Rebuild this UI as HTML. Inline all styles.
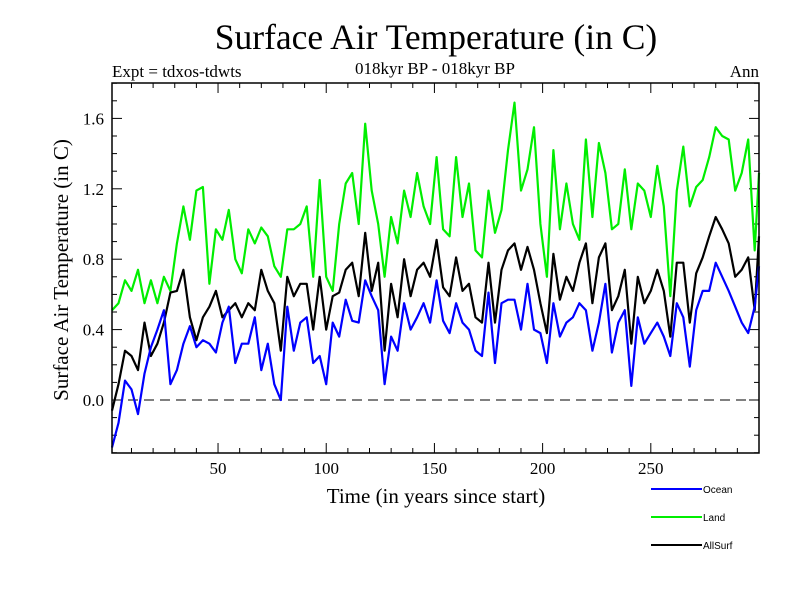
<!DOCTYPE html>
<html><head><meta charset="utf-8"><style>
html,body{margin:0;padding:0;background:#fff;}
svg{display:block;}
text{font-family:"Liberation Serif",serif;fill:#000;}
text.sans{font-family:"Liberation Sans",sans-serif;}
</style></head><body>
<svg id="chart" width="800" height="600" viewBox="0 0 800 600">
<text x="436" y="49" text-anchor="middle" font-size="35.5">Surface Air Temperature (in C)</text>
<text x="112" y="77" font-size="17">Expt = tdxos-tdwts</text>
<text x="435" y="74" text-anchor="middle" font-size="17">018kyr BP - 018kyr BP</text>
<text x="759" y="77" text-anchor="end" font-size="17">Ann</text>
<text transform="translate(68,270) rotate(-90)" text-anchor="middle" font-size="21">Surface Air Temperature (in C)</text>
<text x="436" y="503" text-anchor="middle" font-size="21">Time (in years since start)</text>
<g id="axes"></g>
<g id="series"></g>
<g id="legend"></g>
<rect x="112" y="83" width="647" height="370" fill="none" stroke="#000" stroke-width="1.5"/>
</svg>
<script>
const yTicks = [0.0, 0.4, 0.8, 1.2, 1.6];
const yTickLabels = ["0.0", "0.4", "0.8", "1.2", "1.6"];
const xTicks = [50, 100, 150, 200, 250];
const xTickLabels = ["50", "100", "150", "200", "250"];
const seriesNames = ["Ocean", "Land", "AllSurf"];
const ocean = [-0.27,-0.13,0.11,0.06,-0.08,0.15,0.3,0.4,0.51,0.09,0.17,0.32,0.42,0.3,0.34,0.32,0.27,0.44,0.53,0.21,0.32,0.32,0.47,0.17,0.32,0.09,
0.0,0.53,0.28,0.44,0.47,0.21,0.25,0.09,0.44,0.36,0.57,0.45,0.44,0.68,0.59,0.51,0.09,0.36,0.28,0.55,0.4,0.47,0.55,0.44,
0.68,0.45,0.38,0.55,0.44,0.4,0.28,0.25,0.61,0.21,0.55,0.57,0.57,0.4,0.66,0.4,0.38,0.21,0.55,0.36,0.44,0.47,0.55,0.51,0.28,
0.44,0.66,0.27,0.44,0.51,0.08,0.47,0.32,0.38,0.44,0.36,0.25,0.55,0.47,0.19,0.51,0.62,0.62,0.78,0.7,0.62,0.53,0.44,0.38,0.53,0.76];
const land = [0.51,0.55,0.68,0.62,0.74,0.55,0.68,0.55,0.7,0.62,0.89,1.1,0.91,1.19,1.21,0.66,0.97,0.91,1.08,0.8,0.72,0.97,0.89,0.98,0.93,0.76,
0.7,0.97,0.97,1.0,1.1,0.7,1.25,0.7,0.62,1.0,1.23,1.29,1.0,1.57,1.19,1.0,0.7,1.04,0.89,1.19,1.04,1.29,1.1,1.0,
1.38,0.97,0.93,1.38,1.04,1.23,0.85,0.81,1.19,0.95,1.08,1.42,1.69,1.19,1.31,1.55,1.0,0.7,1.42,0.97,1.23,1.0,0.91,1.48,1.04,
1.46,1.29,0.97,1.0,1.31,0.97,1.23,1.19,1.04,1.33,1.1,0.59,1.19,1.44,1.1,1.21,1.25,1.38,1.55,1.5,1.48,1.19,1.29,1.48,0.85,1.29];
const allSurf = [-0.06,0.09,0.28,0.25,0.17,0.44,0.25,0.32,0.44,0.61,0.62,0.74,0.47,0.34,0.47,0.53,0.62,0.47,0.51,0.55,0.47,0.55,0.51,0.74,0.62,0.55,
0.28,0.7,0.59,0.66,0.66,0.4,0.7,0.4,0.59,0.61,0.74,0.78,0.59,0.95,0.62,0.78,0.28,0.66,0.47,0.8,0.59,0.74,0.78,0.7,
0.91,0.64,0.59,0.81,0.62,0.66,0.47,0.44,0.78,0.44,0.74,0.85,0.89,0.74,0.87,0.74,0.55,0.38,0.83,0.57,0.7,0.62,0.78,0.89,0.55,
0.81,0.89,0.51,0.59,0.74,0.32,0.7,0.55,0.62,0.74,0.62,0.36,0.78,0.78,0.44,0.72,0.81,0.93,1.04,0.97,0.89,0.7,0.74,0.81,0.51,0.93];
const years = [];
for (let y = 1; y <= 298; y += 3) years.push(y);
years.push(300);

const NS = "http://www.w3.org/2000/svg";
const L = 112, R = 759, T = 83, B = 453;
const xMin = 1, xMax = 300;
function xs(v){ return L + (v - xMin) * (R - L) / (xMax - xMin); }
function ys(v){ return 400 - v * 176; }
function mk(tag, attrs, parent){ const e = document.createElementNS(NS, tag); for (const k in attrs) e.setAttribute(k, attrs[k]); parent.appendChild(e); return e; }

const axes = document.getElementById('axes');
for (let i = -3; i <= 18; i++) {
  const v = i / 10, y = ys(v);
  if (y < T || y > B) continue;
  const major = (i % 4 === 0);
  const len = major ? 10 : 5;
  const t1 = mk('line', {x1: L, x2: L + len, y1: y, y2: y, stroke: '#000', 'stroke-width': 1}, axes);
  
  
  const t2 = mk('line', {x1: R, x2: R - len, y1: y, y2: y, stroke: '#000', 'stroke-width': 1}, axes);
  
  
}
yTicks.forEach((v, i) => {
  const t = mk('text', {x: 104, y: ys(v) + 6, 'text-anchor': 'end', 'font-size': 17}, axes);
  t.textContent = yTickLabels[i];
  
  
});
for (let yr = 10; yr < 300; yr += 10) {
  const x = xs(yr), major = (yr % 50 === 0), len = major ? 10 : 5;
  const t1 = mk('line', {x1: x, x2: x, y1: B, y2: B - len, stroke: '#000', 'stroke-width': 1}, axes);
  
  
  const t2 = mk('line', {x1: x, x2: x, y1: T, y2: T + len, stroke: '#000', 'stroke-width': 1}, axes);
  
  
}
xTicks.forEach((v, i) => {
  const t = mk('text', {x: xs(v), y: 474, 'text-anchor': 'middle', 'font-size': 17}, axes);
  t.textContent = xTickLabels[i];
  
  
});
const zl = mk('line', {x1: L, x2: R, y1: ys(0), y2: ys(0), stroke: '#000', 'stroke-width': 1, 'stroke-dasharray': '10,6'}, axes);



const seriesG = document.getElementById('series');
const data = [ocean, land, allSurf];
const colors = ['#0000ff', '#00ee00', '#000000'];
const order = [1, 2, 0];
order.forEach(si => {
  const vals = data[si];
  const pts = vals.map((v, i) => xs(years[i]).toFixed(1) + ',' + ys(v).toFixed(1)).join(' ');
  const p = mk('polyline', {points: pts, fill: 'none', stroke: colors[si], 'stroke-width': 2.2, 'stroke-linejoin': 'round'}, seriesG);
  
  
});

const lg = document.getElementById('legend');
seriesNames.forEach((n, i) => {
  const y = 489 + i * 28;
  const ln = mk('line', {x1: 651, x2: 702, y1: y, y2: y, stroke: colors[i], 'stroke-width': 2}, lg);
  
  
  const t = mk('text', {x: 703, y: y + 4, 'font-size': 10, 'class': 'sans'}, lg);
  t.textContent = n;
  
  
});
</script>
</body></html>
